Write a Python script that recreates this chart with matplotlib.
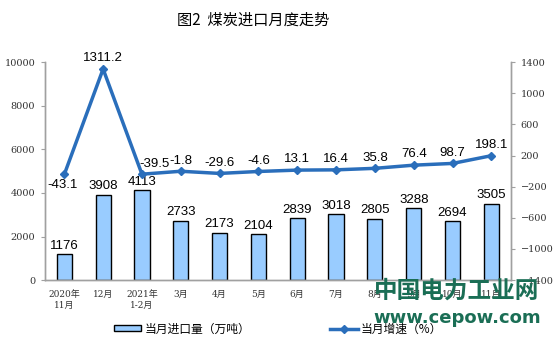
import matplotlib
matplotlib.use("Agg")
import matplotlib.pyplot as plt
from matplotlib.lines import Line2D
from matplotlib.patches import Patch
import numpy as np

plt.rcParams['font.family'] = ['Noto Sans CJK SC', 'DejaVu Sans']

categories = ["2020年\n11月", "12月", "2021年\n1-2月", "3月", "4月", "5月",
              "6月", "7月", "8月", "9月", "10月", "11月"]
imports = [1176, 3908, 4113, 2733, 2173, 2104, 2839, 3018, 2805, 3288, 2694, 3505]
growth = [-43.1, 1311.2, -39.5, -1.8, -29.6, -4.6, 13.1, 16.4, 35.8, 76.4, 98.7, 198.1]

fig = plt.figure(figsize=(5.54, 3.45), dpi=100)
ax = fig.add_axes([0.081, 0.188, 0.841, 0.632])
ax2 = ax.twinx()

x = np.arange(len(categories)) + 0.5
bar_color = "#99CCFF"
line_color = "#2A6EBB"
gray = "#A0A0A0"
tick_fam = ["DejaVu Serif", "Noto Sans CJK SC"]

ax.bar(x, imports, width=0.39, color=bar_color, edgecolor="black", linewidth=1.0, zorder=2)
for xi, v in zip(x, imports):
    ax.text(xi, v + 120, str(v), ha="center", va="bottom", fontsize=9.5,
            family="Liberation Sans", color="black")

ax.set_xlim(0, 12)
ax.set_ylim(0, 10000)
ax.set_yticks(range(0, 10001, 2000))
ax.set_xticks(x)
ax.set_xticklabels(categories, fontsize=6.5, family=tick_fam,
                   color="#333333", linespacing=1.3)
ax.tick_params(axis="x", length=0, pad=7)
ax.tick_params(axis="y", labelsize=7, colors="#333333", length=3, color=gray, pad=4)
for lbl in ax.get_yticklabels():
    lbl.set_family(tick_fam)

ax2.plot(x, growth, color=line_color, linewidth=2.5, marker="D", markersize=4.5, zorder=3)
ax2.set_ylim(-1400, 1400)
ax2.set_yticks(range(-1400, 1401, 400))
ax2.tick_params(axis="y", labelsize=7, colors="#333333", length=3, color=gray, pad=4)
for lbl in ax2.get_yticklabels():
    lbl.set_family(tick_fam)

for i, (xi, v) in enumerate(zip(x, growth)):
    label = f"{v:.1f}"
    if i == 0:
        ax2.text(xi - 0.05, v - 60, label, ha="center", va="top", fontsize=9.5,
                 family="Liberation Sans")
    elif i == 2:
        ax2.text(xi + 0.33, v + 60, label, ha="center", va="bottom", fontsize=9.5,
                 family="Liberation Sans")
    else:
        ax2.text(xi, v + 60, label, ha="center", va="bottom", fontsize=9.5,
                 family="Liberation Sans")

for a in (ax, ax2):
    a.spines["top"].set_visible(False)
    for s in ("left", "right", "bottom"):
        a.spines[s].set_color(gray)
        a.spines[s].set_linewidth(1.0)
ax.set_zorder(1)
ax2.set_zorder(2)
ax2.patch.set_visible(False)

fig.text(0.457, 0.94, "图2  煤炭进口月度走势", ha="center", va="center", fontsize=11,
         fontweight="medium", color="black")

handles = [Patch(facecolor=bar_color, edgecolor="black", linewidth=1.0),
           Line2D([0], [0], color=line_color, linewidth=2.5, marker="D", markersize=4.5)]
fig.legend(handles, ["当月进口量（万吨）", "当月增速（%）"], loc="center",
           bbox_to_anchor=(0.502, 0.046), ncol=2, frameon=False, fontsize=8.5,
           handlelength=2.3, handleheight=0.4, columnspacing=6.8, handletextpad=0.25)

fig.text(0.825, 0.157, "中国电力工业网", ha="center", va="center", fontsize=17,
         fontweight="bold", color="#1A6E55", zorder=10)
fig.text(0.825, 0.078, "www.cepow.com", ha="center", va="center", fontsize=13,
         fontweight="bold", color="#1A6E55", family="DejaVu Sans", zorder=10)

fig.savefig("out.png", dpi=100)
